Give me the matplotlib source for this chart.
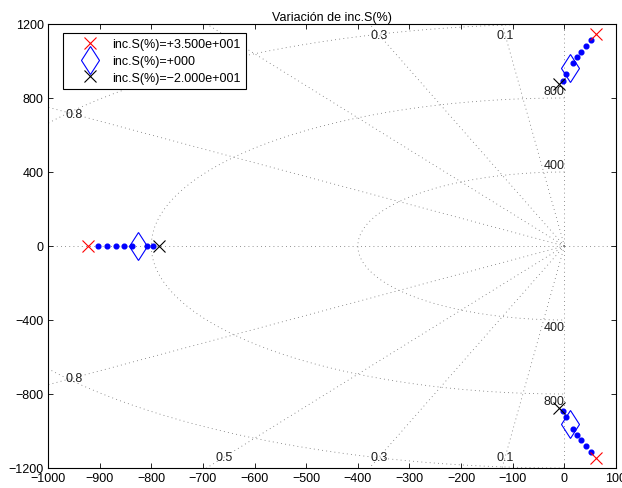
import numpy as np
import matplotlib
matplotlib.use("Agg")
import matplotlib.pyplot as plt
from matplotlib.lines import Line2D

plt.rcParams["font.family"] = ["Liberation Sans", "DejaVu Sans"]
plt.rcParams["font.size"] = 9

# pole locus (dots) as inc.S(%) varies
locus_real = [-904, -885, -868, -852, -837, -808, -796]
locus_cplx_re = [52, 42, 32, 24.5, 17.4, 3.2, -3.3]
locus_cplx_im = [1115, 1083, 1049, 1020, 990, 927, 894]

# the three marked cases
case_labels = ["inc.S(%)=+3.500e+001", "inc.S(%)=+000", "inc.S(%)=\u22122.000e+001"]
case_real_pole = [-923, -825, -785]
case_cplx_re = [61, 10, -10]
case_cplx_im = [1148, 963, 873]
case_markers = ["x", "d", "x"]
case_colors = ["#ff0000", "#0000ff", "#000000"]

# s-plane grid
zeta_values = [0.1, 0.3, 0.5, 0.8]
wn_values = [400, 800, 1200]

x_lim = (-1000, 100)
y_lim = (-1200, 1200)
x_ticks = np.arange(-1000, 101, 100)
y_ticks = np.arange(-1200, 1201, 400)

fig = plt.figure(figsize=(6.22, 4.89), dpi=100)
ax = fig.add_axes([0.0772, 0.0409, 0.9132, 0.908])

grid_kw = dict(color="#6e6e6e", lw=0.6, dashes=(1, 4), zorder=1)
grid_texts = []

# zeta rays
for z in zeta_values:
    wd = np.sqrt(1 - z**2)
    for sgn in (1, -1):
        ax.plot([0, -z * 3000], [0, sgn * wd * 3000], **grid_kw)
        # label where the ray leaves the box, pulled slightly inward
        t = min(abs(x_lim[0]) / z, y_lim[1] / wd)
        grid_texts.append(ax.text(-z * t * 0.95, sgn * wd * t * 0.95, f"{z:g}",
                                  ha="center", va="center", color="#202020"))

# wn semicircles
th = np.linspace(np.pi / 2, 3 * np.pi / 2, 400)
for wn in wn_values:
    ax.plot(wn * np.cos(th), wn * np.sin(th), **grid_kw)
    for sgn in (1, -1):
        ypos = sgn * (wn + 40)
        if abs(ypos) < y_lim[1]:
            grid_texts.append(ax.text(-20, ypos, f"{wn}", ha="center",
                                      va="center", color="#202020"))

ax.axhline(0, **grid_kw)
ax.axvline(0, **grid_kw)

# locus dots
dot_kw = dict(ls="none", marker="o", ms=3.4, mfc="#0000ff", mec="#0000ff", zorder=3)
ax.plot(locus_real, np.zeros(len(locus_real)), **dot_kw)
ax.plot(locus_cplx_re, locus_cplx_im, **dot_kw)
ax.plot(locus_cplx_re, -np.array(locus_cplx_im), **dot_kw)

handles = []
for lab, pr, cr, ci, mk, col in zip(case_labels, case_real_pole, case_cplx_re,
                                     case_cplx_im, case_markers, case_colors):
    ms = 14.5 if mk == "d" else 8
    kw = dict(ls="none", marker=mk, ms=ms, mfc="none", mec=col, mew=0.8, zorder=4)
    ax.plot([pr, cr, cr], [0, ci, -ci], **kw)
    handles.append(Line2D([], [], label=lab, **kw))

leg = ax.legend(handles=handles, loc="upper left", bbox_to_anchor=(0.026, 0.979),
                borderaxespad=0, fancybox=False, framealpha=1, edgecolor="black",
                fontsize=9, handlelength=3.5, handletextpad=0.05, labelspacing=0.38,
                borderpad=0.4)
leg.get_frame().set_linewidth(0.8)
leg.set_zorder(10)

ax.set_xlim(*x_lim)
ax.set_ylim(*y_lim)
ax.set_xticks(x_ticks)
ax.set_yticks(y_ticks)
ax.tick_params(direction="in", top=True, right=True, length=3.6, width=0.6,
               labelsize=9, pad=3)
for sp in ax.spines.values():
    sp.set_linewidth(0.8)

ax.set_title("Variación de inc.S(%)", fontsize=9, pad=3)

# grid labels sitting under the legend are hidden by it
fig.canvas.draw()
r = fig.canvas.get_renderer()
leg_box = leg.get_window_extent(r)
for txt in grid_texts:
    if txt.get_window_extent(r).overlaps(leg_box):
        txt.set_visible(False)

fig.savefig("out.png", dpi=100)
